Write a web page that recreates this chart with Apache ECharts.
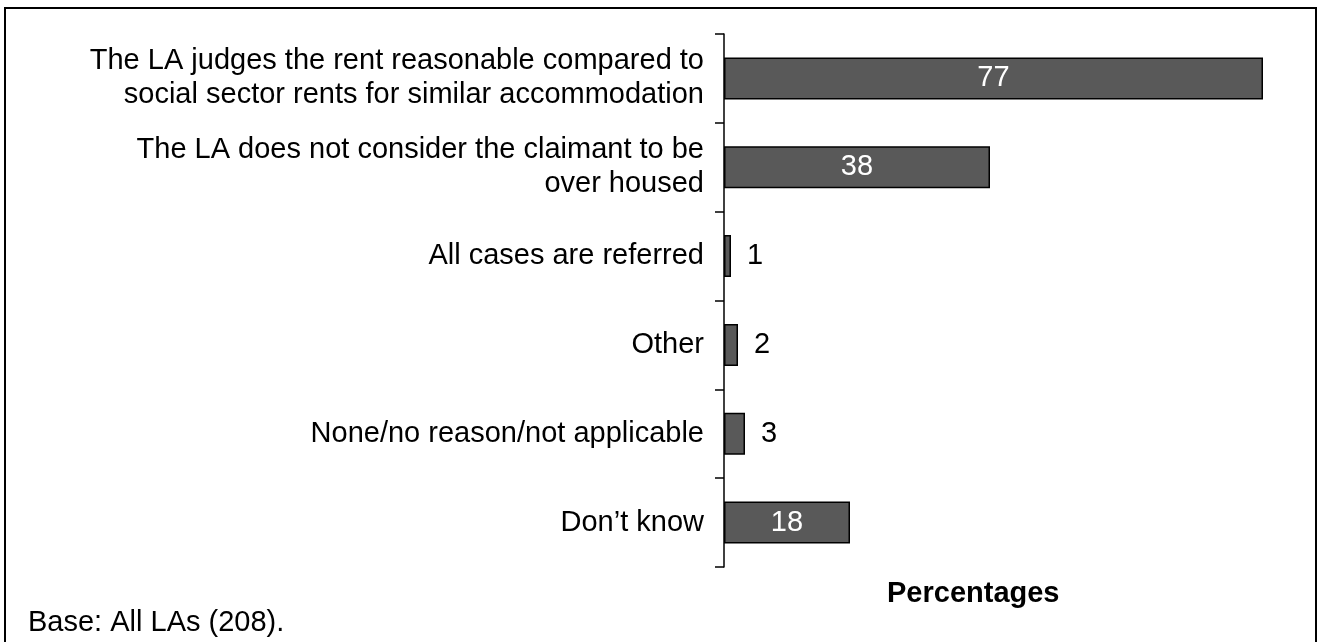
<!DOCTYPE html>
<html>
<head>
<meta charset="utf-8">
<script src="https://cdn.jsdelivr.net/npm/echarts@6/dist/echarts.min.js"></script>
<style>
  html, body { margin: 0; padding: 0; background: #fff; }
  #chart { width: 1318px; height: 642px; }
</style>
</head>
<body>
<div id="chart"></div>
<script>
// Reasons given by local authorities (percentages)
const categories = [
  'The LA judges the rent reasonable compared to\nsocial sector rents for similar accommodation',
  'The LA does not consider the claimant to be\nover housed',
  'All cases are referred',
  'Other',
  'None/no reason/not applicable',
  'Don\u2019t know'
];
const values = [77, 38, 1, 2, 3, 18];
const axisMax = 80;
const unitLabel = 'Percentages';
const baseNote = 'Base: All LAs (208).';

const FONT = '"Liberation Sans", Arial, sans-serif';
const FS = 29;

// Long bars carry their value inside in white; short bars get it alongside in black
const barData = values.map(v => ({
  value: v,
  label: v >= 10
    ? { position: 'inside', color: '#ffffff' }
    : { position: 'right', color: '#000000', distance: 16 }
}));

const chart = echarts.init(document.getElementById('chart'), null, { renderer: 'canvas' });
chart.setOption({
  animation: false,
  backgroundColor: '#ffffff',
  grid: { left: 724, right: 34, top: 34, bottom: 75, containLabel: false },
  xAxis: {
    type: 'value',
    min: 0,
    max: axisMax,
    show: false
  },
  yAxis: {
    type: 'category',
    inverse: true,
    data: categories,
    axisLine: { show: true, lineStyle: { color: '#000', width: 1.5 } },
    axisTick: { show: true, length: 9, lineStyle: { color: '#000', width: 1.5 } },
    axisLabel: {
      margin: 20,
      color: '#000',
      fontFamily: FONT,
      fontSize: FS,
      lineHeight: 34,
      align: 'right'
    },
    splitLine: { show: false }
  },
  series: [{
    type: 'bar',
    data: barData,
    barWidth: 42,
    itemStyle: { color: '#595959', borderColor: '#000', borderWidth: 1.5 },
    label: {
      show: true,
      fontFamily: FONT,
      fontSize: FS
    }
  }],
  graphic: [
    {
      type: 'rect',
      shape: { x: 5, y: 8, width: 1311, height: 640 },
      style: { fill: 'none', stroke: '#000', lineWidth: 2 },
      silent: true
    },
    {
      type: 'text',
      left: 887,
      top: 579,
      style: { text: unitLabel, font: 'bold ' + FS + 'px ' + FONT, fill: '#000' }
    },
    {
      type: 'text',
      left: 28,
      top: 608,
      style: { text: baseNote, font: FS + 'px ' + FONT, fill: '#000' }
    }
  ]
});
</script>
</body>
</html>
